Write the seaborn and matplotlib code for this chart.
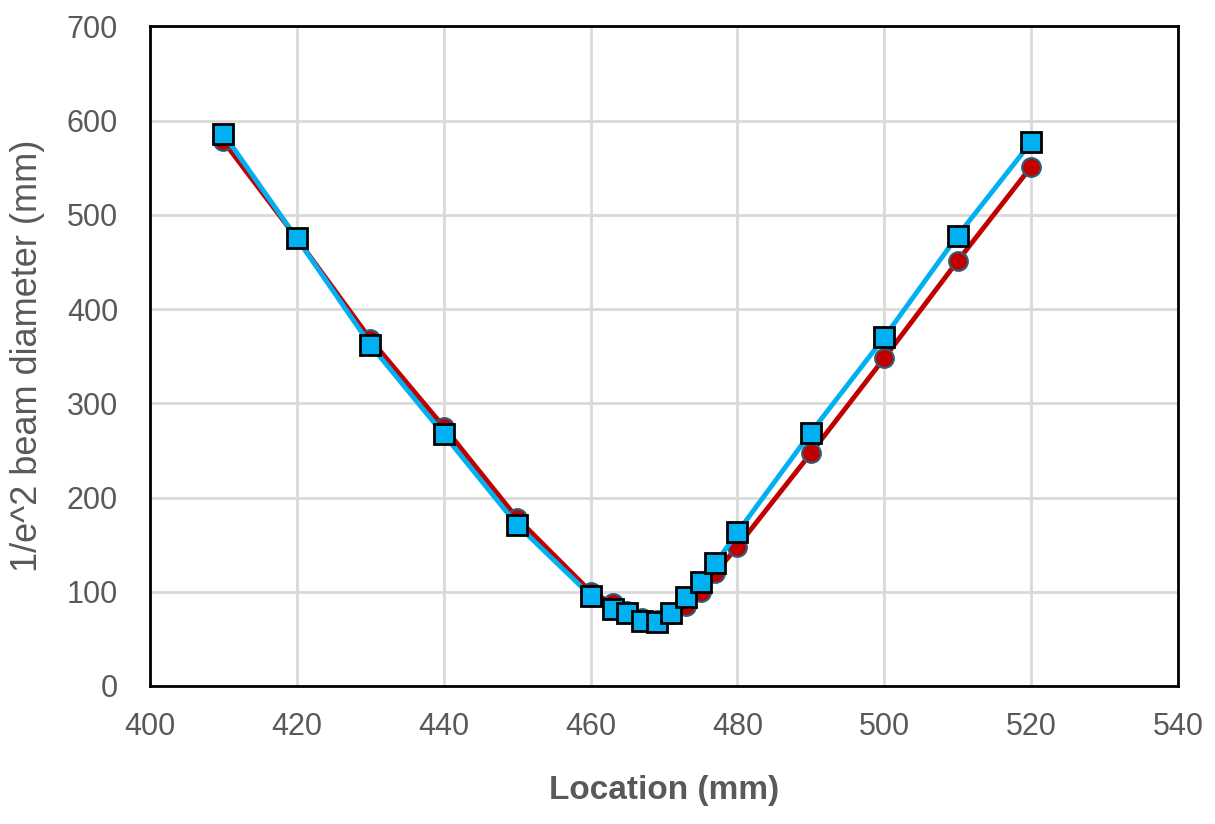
import pandas as pd
import numpy as np
import matplotlib.pyplot as plt
import seaborn as sns

# Beam diameter measurements along the propagation axis
location = [410, 420, 430, 440, 450, 460, 463, 465, 467, 469, 471, 473, 475, 477, 480, 490, 500, 510, 520]
diam_red = [578, 475, 368, 275, 178, 100, 88, 80, 72, 70, 76, 85, 100, 120, 148, 247, 348, 451, 551]
diam_blue = [586, 475, 362, 267, 171, 96, 82, 77, 69, 68, 77, 94, 110, 130, 163, 269, 370, 478, 577]

sns.set_style("white")
plt.rcParams['font.family'] = ['Liberation Sans', 'DejaVu Sans']

fig = plt.figure(figsize=(12.15, 8.24), dpi=100)
ax = fig.add_axes([0.1235, 0.1675, 0.846, 0.8005])

gray = '#595959'

sns.lineplot(x=location, y=diam_red, ax=ax, color='#C00000', linewidth=3.5,
             marker='o', markersize=13.5, markerfacecolor='#C00000',
             markeredgecolor='#2E5F7A', markeredgewidth=1.5, zorder=3)
sns.lineplot(x=location, y=diam_blue, ax=ax, color='#00B0F0', linewidth=3.5,
             marker='s', markersize=14, markerfacecolor='#00B0F0',
             markeredgecolor='black', markeredgewidth=2, zorder=4)

ax.set_xlim(400, 540)
ax.set_ylim(0, 700)
ax.set_xticks(np.arange(400, 541, 20))
ax.set_yticks(np.arange(0, 701, 100))
ax.grid(True, color='#D9D9D9', linewidth=2)
ax.set_axisbelow(True)

for sp in ax.spines.values():
    sp.set_color('black')
    sp.set_linewidth(2)

ax.tick_params(axis='both', labelsize=22, colors=gray, length=0)
ax.tick_params(axis='x', pad=19)
ax.tick_params(axis='y', pad=23)
ax.set_xlabel('Location (mm)', fontsize=24, fontweight='bold', color=gray, va='center')
ax.set_ylabel('1/e^2 beam diameter (mm)', fontsize=26, color=gray, va='center')
ax.xaxis.set_label_coords(0.5, -0.158)
ax.yaxis.set_label_coords(-0.119, 0.5)

fig.savefig('out.png', dpi=100)
